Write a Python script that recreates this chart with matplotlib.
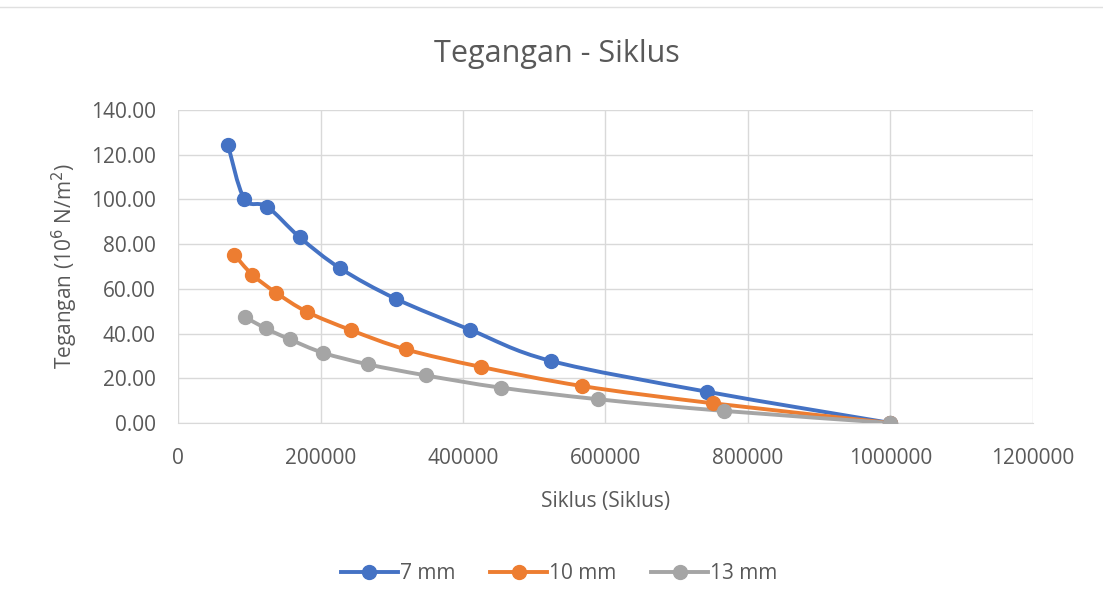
import matplotlib.pyplot as plt
import numpy as np
from matplotlib.path import Path
from matplotlib.patches import PathPatch
from matplotlib.lines import Line2D
from matplotlib.ticker import FormatStrFormatter, MultipleLocator

plt.rcParams['font.family'] = ['Open Sans', 'DejaVu Sans']

# --- data ---
series_names = ['7 mm', '10 mm', '13 mm']
siklus_7 = [70000, 93000, 125000, 171000, 228000, 306000, 410000, 523000, 742000, 1000000]
tegangan_7 = [124.5, 100.3, 96.8, 83.0, 69.1, 55.5, 41.7, 27.8, 14.0, 0.0]
siklus_10 = [79000, 104000, 137500, 181000, 243000, 320000, 425000, 567500, 751000, 1000000]
tegangan_10 = [75.3, 66.4, 58.3, 49.7, 41.5, 32.9, 25.1, 16.5, 8.8, 0.0]
siklus_13 = [93500, 123000, 157000, 203500, 267000, 347500, 453000, 590000, 766000, 1000000]
tegangan_13 = [47.5, 42.3, 37.4, 31.4, 26.2, 21.3, 15.8, 10.6, 5.4, 0.0]
colors = ['#4472C4', '#ED7D31', '#A5A5A5']

text_color = '#595959'


def smooth_path(x, y):
    # Excel-like smoothed line: Catmull-Rom segments as cubic Beziers
    pts = np.column_stack([x, y]).astype(float)
    n = len(pts)
    verts = [pts[0]]
    codes = [Path.MOVETO]
    for i in range(n - 1):
        p0 = pts[i - 1] if i > 0 else pts[i]
        p1 = pts[i]
        p2 = pts[i + 1]
        p3 = pts[i + 2] if i + 2 < n else pts[i + 1]
        c1 = p1 + (p2 - p0) / 6.0
        c2 = p2 - (p3 - p1) / 6.0
        verts += [c1, c2, p2]
        codes += [Path.CURVE4] * 3
    return Path(verts, codes)


fig = plt.figure(figsize=(11.03, 6.10), dpi=100)
ax = fig.add_axes([0.1614, 0.3066, 0.7751, 0.5131])

data = [(siklus_7, tegangan_7), (siklus_10, tegangan_10), (siklus_13, tegangan_13)]
for (xs, ys), c in zip(data, colors):
    ax.add_patch(PathPatch(smooth_path(xs, ys), facecolor='none', edgecolor=c,
                           lw=2.8, zorder=3, capstyle='round'))
    ax.plot(xs, ys, linestyle='none', marker='o', markersize=10, color=c, zorder=4)

ax.set_xlim(0, 1200000)
ax.set_ylim(0, 140)
ax.xaxis.set_major_locator(MultipleLocator(200000))
ax.yaxis.set_major_locator(MultipleLocator(20))
ax.xaxis.set_major_formatter(FormatStrFormatter('%d'))
ax.yaxis.set_major_formatter(FormatStrFormatter('%.2f'))
ax.grid(True, color='#d9d9d9', lw=1)
ax.set_axisbelow(True)
for s in ['top', 'right', 'left']:
    ax.spines[s].set_visible(False)
ax.spines['bottom'].set_color('#d9d9d9')
ax.tick_params(length=0, labelsize=15, colors=text_color)
ax.tick_params(axis='x', pad=18)
ax.tick_params(axis='y', pad=16)

fig.text(0.505, 0.912, 'Tegangan - Siklus', fontsize=22, color=text_color,
         ha='center', va='center')
ax.set_xlabel('Siklus (Siklus)', fontsize=15, color=text_color, labelpad=16)
ax.set_ylabel('Tegangan (10$^6$ N/m$^2$)', fontsize=15, color=text_color, labelpad=8)

handles = [Line2D([], [], color=c, lw=2.8, marker='o', markersize=10) for c in colors]
fig.legend(handles, series_names, loc='center', bbox_to_anchor=(0.507, 0.06), ncol=3,
           frameon=False, fontsize=15, labelcolor=text_color, handlelength=2.7,
           handletextpad=0.1, columnspacing=1.7)

fig.add_artist(Line2D([0, 1], [0.988, 0.988], color='#e0e0e0', lw=1, transform=fig.transFigure))

fig.savefig('out.png', dpi=100, facecolor='white')
